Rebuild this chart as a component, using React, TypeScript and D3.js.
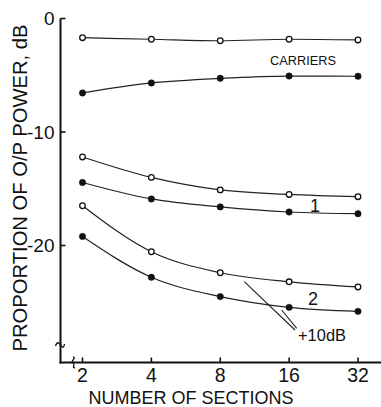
import React from "react";
import * as d3 from "d3";

const sections = [2, 4, 8, 16, 32];
const yTicks = [0, -10, -20];
const carriersOpen = [-1.69, -1.83, -1.96, -1.83, -1.89];
const carriersFilled = [-6.56, -5.68, -5.27, -5.07, -5.09];
const product1Open = [-12.2, -14.0, -15.1, -15.5, -15.7];
const product1Filled = [-14.45, -15.9, -16.6, -17.05, -17.2];
const product2Open = [-16.5, -20.55, -22.4, -23.2, -23.65];
const product2Filled = [-19.2, -22.8, -24.5, -25.45, -25.8];

const series = [
  { values: carriersOpen, filled: false },
  { values: carriersFilled, filled: true },
  { values: product1Open, filled: false },
  { values: product1Filled, filled: true },
  { values: product2Open, filled: false },
  { values: product2Filled, filled: true },
];

const W = 381;
const H = 407;
const FONT = "'Liberation Sans', Arial, Helvetica, sans-serif";

export default function App() {
  const x = d3.scaleLog().base(2).domain([2, 32]).range([82.5, 358]);
  const y = d3.scaleLinear().domain([0, -20]).range([18.5, 245.5]);
  const axisX = 60.5;
  const axisY = 362.5;

  const line = d3
    .line<[number, number]>()
    .x((d) => x(d[0]))
    .y((d) => y(d[1]))
    .curve(d3.curveMonotoneX);

  return (
    <div style={{ position: "fixed", left: 0, top: 0 }}>
      <svg width={W} height={H} style={{ display: "block", background: "#fff" }}>
        {/* axes */}
        <line x1={axisX} y1={y(0)} x2={axisX} y2={axisY + 1} stroke="#111" strokeWidth={2} />
        <line x1={axisX - 1} y1={axisY} x2={W} y2={axisY} stroke="#111" strokeWidth={2} />
        {yTicks.map((t) => (
          <g key={t}>
            <line x1={axisX} x2={axisX + 5} y1={y(t)} y2={y(t)} stroke="#111" strokeWidth={1.6} />
            <text
              x={axisX - 6}
              y={y(t)}
              dy="0.36em"
              textAnchor="end"
              fontFamily={FONT}
              fontSize={19}
              fill="#111"
            >
              {t === 0 ? "0" : String(t)}
            </text>
          </g>
        ))}
        {sections.map((s) => (
          <g key={s}>
            <line x1={x(s)} x2={x(s)} y1={axisY} y2={axisY - 5} stroke="#111" strokeWidth={1.6} />
            <text x={x(s)} y={382} textAnchor="middle" fontFamily={FONT} fontSize={19.5} fill="#111">
              {s}
            </text>
          </g>
        ))}
        {/* axis breaks */}
        <path
          d={`M${axisX - 5},${346} C${axisX - 3},${340} ${axisX - 1},${344} ${axisX},${345} S${axisX + 3},${350} ${axisX + 4},${344}`}
          fill="none"
          stroke="#111"
          strokeWidth={1.3}
        />
        <path
          d={`M${73},${357} C${77},${358} ${70},${361} ${73},${363} S${71},${367} ${75},${368}`}
          fill="none"
          stroke="#111"
          strokeWidth={1.3}
        />
        {/* titles */}
        <text
          x={191}
          y={404}
          textAnchor="middle"
          fontFamily={FONT}
          fontSize={18.5}
          textLength={205}
          lengthAdjust="spacingAndGlyphs"
          fill="#111"
        >
          NUMBER OF SECTIONS
        </text>
        <text
          transform="translate(27,188) rotate(-90)"
          textAnchor="middle"
          fontFamily={FONT}
          fontSize={19.5}
          textLength={327}
          lengthAdjust="spacingAndGlyphs"
          fill="#111"
        >
          PROPORTION OF O/P POWER, dB
        </text>
        {/* lines */}
        {series.map((s, i) => (
          <path
            key={i}
            d={line(sections.map((v, j) => [v, s.values[j]] as [number, number])) || ""}
            fill="none"
            stroke="#222"
            strokeWidth={1.2}
          />
        ))}
        {/* markers */}
        {series.map((s, i) =>
          sections.map((v, j) => (
            <circle
              key={`${i}-${j}`}
              cx={x(v)}
              cy={y(s.values[j])}
              r={s.filled ? 3.2 : 2.8}
              fill={s.filled ? "#111" : "#fff"}
              stroke="#111"
              strokeWidth={s.filled ? 0.5 : 1.3}
            />
          ))
        )}
        {/* annotations */}
        <text x={270} y={65} fontFamily={FONT} fontSize={12.5} fill="#111" textLength={66} lengthAdjust="spacingAndGlyphs">
          CARRIERS
        </text>
        <text x={315} y={211.5} textAnchor="middle" fontFamily={FONT} fontSize={18} fill="#111">
          1
        </text>
        <text x={313} y={304.5} textAnchor="middle" fontFamily={FONT} fontSize={18} fill="#111">
          2
        </text>
        <line x1={244.3} y1={281.7} x2={295} y2={330} stroke="#222" strokeWidth={1.1} />
        <line x1={281.7} y1={310} x2={296.7} y2={328.3} stroke="#222" strokeWidth={1.1} />
        <text x={298} y={340.5} fontFamily={FONT} fontSize={17} fill="#111" textLength={48} lengthAdjust="spacingAndGlyphs">
          +10dB
        </text>
      </svg>
    </div>
  );
}
